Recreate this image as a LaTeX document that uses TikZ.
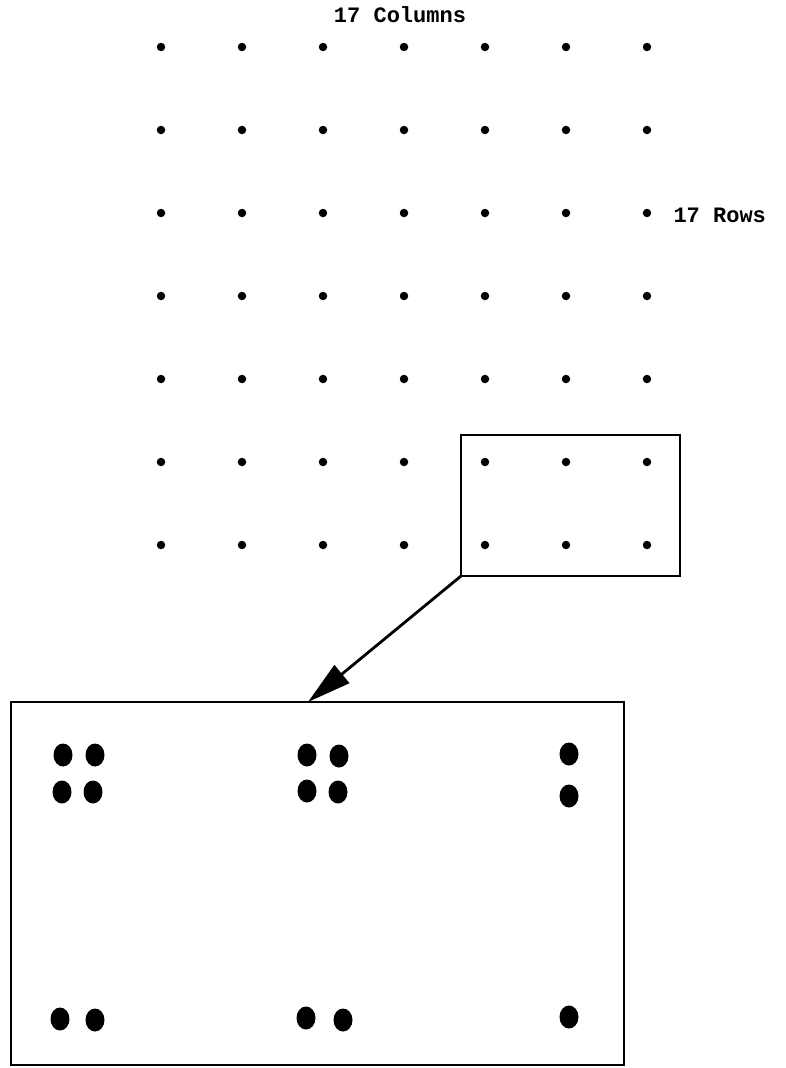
\documentclass[tikz,border=0pt]{standalone}
\usepackage{fontspec}
\setmonofont{Liberation Mono}
\usetikzlibrary{arrows.meta, positioning, shapes.geometric}

\tikzset{
  dot/.style={circle, fill=black, inner sep=0pt, minimum size=8.5pt},
  bigdot/.style={ellipse, fill=black, inner sep=0pt, minimum width=19pt, minimum height=23pt},
  box/.style={draw, line width=2.8pt, inner sep=0pt, outer sep=0pt},
  lbl/.style={font=\ttfamily\bfseries\fontsize{22}{24}\selectfont}
}

\begin{document}
\begin{tikzpicture}[x=1pt, y=-1pt]
  \useasboundingbox (0,0) rectangle (785,1068);
  \begin{scope}
    \foreach \c in {1,...,7}
      \foreach \r in {1,...,7}
        \node[dot] (g-\c-\r) at ({161+81*(\c-1)}, {47+83*(\r-1)}) {};
    \node[lbl] (cols) at (400,15) {17 Columns};
    \node[lbl, anchor=west] (rows) at (670,215) {17 Rows};
  \end{scope}
  \node[box, minimum width=219pt, minimum height=141pt] (zoom) at (570.5,505.5) {};
  \node[box, minimum width=613pt, minimum height=363pt] (detail) at (317.5,883.5) {};
  \coordinate (tip) at (308,702);
  \draw[line width=2.8pt, -{Triangle[length=44pt, width=23pt]}] (zoom.south west) -- (tip);
  \begin{scope}
    \node[bigdot] (a1) at (63,755) {};
    \node[bigdot] (a2) at (95,755) {};
    \node[bigdot] (a3) at (62,792) {};
    \node[bigdot] (a4) at (93,792) {};
    \node[bigdot] (b1) at (307,755) {};
    \node[bigdot] (b2) at (339,756) {};
    \node[bigdot] (b3) at (307,791) {};
    \node[bigdot] (b4) at (338,792) {};
    \node[bigdot] (c1) at (569,754) {};
    \node[bigdot] (c2) at (569,796) {};
    \node[bigdot] (a5) at (60,1019) {};
    \node[bigdot] (a6) at (95,1020) {};
    \node[bigdot] (b5) at (306,1018) {};
    \node[bigdot] (b6) at (343,1020) {};
    \node[bigdot] (c3) at (569,1017) {};
  \end{scope}
\end{tikzpicture}
\end{document}
